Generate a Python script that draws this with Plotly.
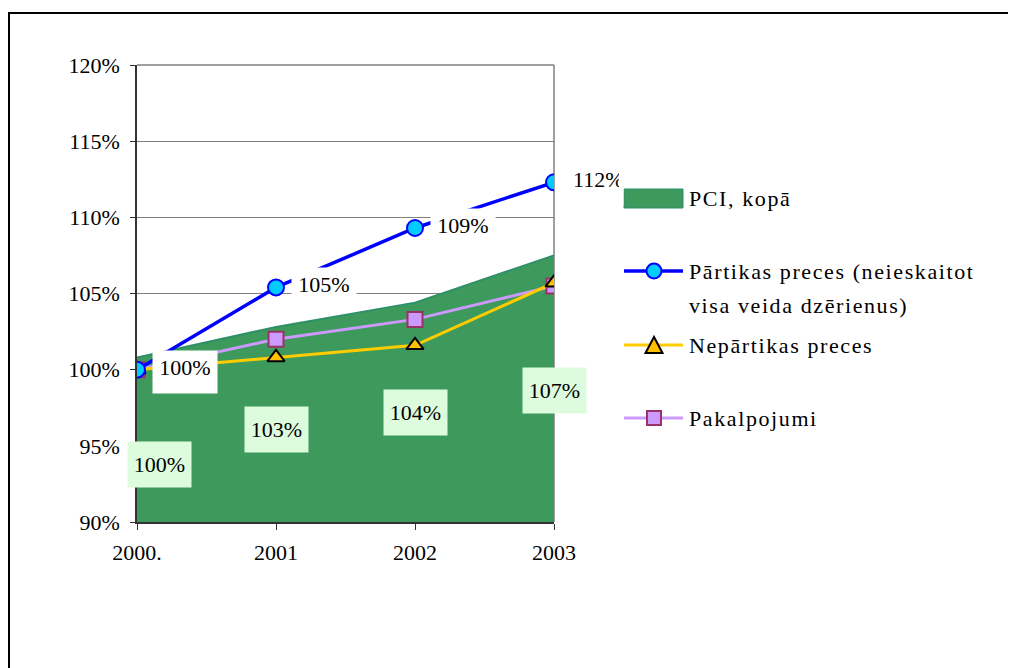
import plotly.graph_objects as go

# ---- data ----
years = ["2000.", "2001", "2002", "2003"]
pci_total = [100.8, 102.8, 104.4, 107.5]
pci_labels = ["100%", "103%", "104%", "107%"]
food = [100.0, 105.4, 109.3, 112.3]
food_labels = ["100%", "105%", "109%", "112%"]
nonfood = [100.0, 100.8, 101.6, 105.7]
services = [100.0, 102.0, 103.3, 105.5]
y_ticks = [90, 95, 100, 105, 110, 115, 120]
y_tick_text = ["90%", "95%", "100%", "105%", "110%", "115%", "120%"]

names = ["PCI, kopā", "Pārtikas preces (neieskaitot", "visa veida dzērienus)",
         "Nepārtikas preces", "Pakalpojumi"]

FONT = "Liberation Serif"
FS = 22

# page offset (body margin) and plot area in page pixels
OFF = 8
PX_L, PX_R, PY_T, PY_B = 137, 554, 65, 522
W, H = 1016 - OFF, 668 - OFF


def px(x):
    return (x - PX_L) / (PX_R - PX_L)


def py(y):
    return (PY_B - y) / (PY_B - PY_T)


xi = list(range(len(years)))

fig = go.Figure()

fig.add_trace(go.Scatter(
    x=xi, y=pci_total, mode="lines", fill="tozeroy",
    fillcolor="#3D9A5C", line=dict(color="#2F9068", width=2),
    hoverinfo="skip", showlegend=False))
fig.add_trace(go.Scatter(
    x=xi, y=services, mode="lines+markers",
    line=dict(color="#CC99FF", width=3),
    marker=dict(symbol="square", size=15, color="#CC99FF",
                line=dict(color="#993366", width=2)),
    showlegend=False))
fig.add_trace(go.Scatter(
    x=xi, y=nonfood, mode="lines+markers",
    line=dict(color="#FFCC00", width=3),
    marker=dict(symbol="triangle-up", size=15, color="#FFC000",
                line=dict(color="black", width=2)),
    showlegend=False))
fig.add_trace(go.Scatter(
    x=xi, y=food, mode="lines+markers",
    line=dict(color="#0000FF", width=3.5),
    marker=dict(symbol="circle", size=16, color="#00CCFF",
                line=dict(color="#0000FF", width=2)),
    showlegend=False))

annotations = []
# area data labels (light green boxes)
area_xshift = [22, 0, 0, 0]
area_yshift = [-25, -5, 0, -2]
for i, (v, lab) in enumerate(zip(pci_total, pci_labels)):
    annotations.append(dict(
        x=xi[i], y=(90 + v) / 2, text=lab, showarrow=False,
        xanchor="center", yanchor="middle",
        xshift=area_xshift[i], yshift=area_yshift[i],
        width=61, height=43, bgcolor="#DDFCDD",
        font=dict(family=FONT, size=FS, color="black")))
# food data labels (white boxes)
food_w = [56, 56, 56, 46]
food_xs = [15, 15, 15, 14]
food_align = ["center", "center", "center", "left"]
for i, (v, lab) in enumerate(zip(food, food_labels)):
    annotations.append(dict(
        x=xi[i], y=v, text=lab, showarrow=False,
        xanchor="left", yanchor="middle", xshift=food_xs[i], yshift=-2,
        width=food_w[i], height=34, align=food_align[i], valign="top",
        borderpad=4, bgcolor="white",
        font=dict(family=FONT, size=FS, color="black")))

# manual legend texts
leg_text_y = [198, 271, 305, 345, 418]
for t, yy in zip(names, leg_text_y):
    annotations.append(dict(
        xref="paper", yref="paper", x=px(687), y=py(yy),
        text='<span style="letter-spacing:1.6px">' + t + '</span>',
        showarrow=False, xanchor="left", yanchor="middle",
        font=dict(family=FONT, size=FS, color="black")))

shapes = []
# outer border
shapes.append(dict(type="rect", xref="paper", yref="paper",
                   x0=px(9), x1=px(1040), y0=py(700), y1=py(13),
                   line=dict(color="black", width=2), layer="below"))
# plot area top & right border
shapes.append(dict(type="line", xref="paper", yref="paper",
                   x0=0, x1=1, y0=1, y1=1,
                   line=dict(color="#808080", width=1.5), layer="below"))
shapes.append(dict(type="line", xref="paper", yref="paper",
                   x0=1, x1=1, y0=0, y1=1,
                   line=dict(color="#808080", width=1.5), layer="below"))

# legend symbols
LX0, LX1, LXC = 624, 683, 654
shapes.append(dict(type="rect", xref="paper", yref="paper",
                   x0=px(LX0), x1=px(LX1), y0=py(208), y1=py(189),
                   fillcolor="#3D9A5C", line=dict(color="#2F9068", width=1)))
# blue
shapes.append(dict(type="line", xref="paper", yref="paper",
                   x0=px(LX0), x1=px(LX1), y0=py(271), y1=py(271),
                   line=dict(color="#0000FF", width=3.5)))
shapes.append(dict(type="circle", xref="paper", yref="paper",
                   x0=px(LXC - 7.5), x1=px(LXC + 7.5), y0=py(278.5), y1=py(263.5),
                   fillcolor="#00CCFF", line=dict(color="#0000FF", width=2)))
# yellow
shapes.append(dict(type="line", xref="paper", yref="paper",
                   x0=px(LX0), x1=px(LX1), y0=py(345), y1=py(345),
                   line=dict(color="#FFCC00", width=3)))
tri = "M {a},{b} L {c},{d} L {e},{f} Z".format(
    a=px(LXC), b=py(337), c=px(LXC - 8.5), d=py(353), e=px(LXC + 8.5), f=py(353))
shapes.append(dict(type="path", xref="paper", yref="paper", path=tri,
                   fillcolor="#FFC000", line=dict(color="black", width=2)))
# purple
shapes.append(dict(type="line", xref="paper", yref="paper",
                   x0=px(LX0), x1=px(LX1), y0=py(418), y1=py(418),
                   line=dict(color="#CC99FF", width=3)))
shapes.append(dict(type="rect", xref="paper", yref="paper",
                   x0=px(LXC - 7), x1=px(LXC + 7), y0=py(425), y1=py(411),
                   fillcolor="#CC99FF", line=dict(color="#993366", width=2)))

fig.update_layout(
    width=W, height=H,
    margin=dict(l=PX_L - OFF, r=W - (PX_R - OFF), t=PY_T - OFF,
                b=H - (PY_B - OFF), pad=0),
    paper_bgcolor="white", plot_bgcolor="white",
    showlegend=False,
    font=dict(family=FONT, size=FS, color="black"),
    xaxis=dict(range=[0, 3], tickvals=xi, ticktext=years,
               showgrid=False, showline=True, linecolor="#333333", linewidth=1.5,
               ticks="outside", ticklen=6, tickcolor="#333333",
               zeroline=False, ticklabelstandoff=4,
               tickfont=dict(family=FONT, size=FS, color="black")),
    yaxis=dict(range=[90, 120], tickvals=y_ticks, ticktext=y_tick_text,
               showgrid=True, gridcolor="#808080", gridwidth=1.2,
               showline=True, linecolor="#333333", linewidth=1.5,
               ticks="outside", ticklen=5, tickcolor="#333333",
               zeroline=False, ticklabelstandoff=6,
               tickfont=dict(family=FONT, size=FS, color="black")),
    annotations=annotations,
    shapes=shapes,
)

fig.write_html("out.html")
